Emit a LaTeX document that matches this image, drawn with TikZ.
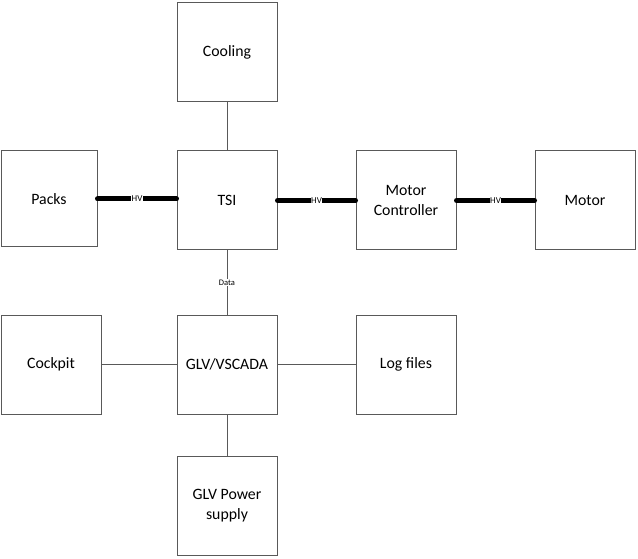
\documentclass[tikz,border=0pt]{standalone}
\usepackage{fontspec}
\setmainfont{Carlito}
\usepackage{tikz}
\usetikzlibrary{arrows}
\usepackage{color}
\definecolor{sysgray}{RGB}{89,89,89}
\definecolor{sysblack}{RGB}{0,0,0}

\begin{document}
\begin{tikzpicture}[x=1pt, y=-1pt,
    block/.style={draw=sysgray, line width=1pt, fill=white, align=center,
      minimum width=100pt, minimum height=99pt, inner sep=0pt,
      font=\fontsize{15.8}{19.5}\selectfont},
    link/.style={draw=sysgray, line width=1pt},
    hvlink/.style={draw=sysblack, line width=5pt, line cap=round},
    hvtag/.style={fill=white, inner sep=0.5pt, font=\fontsize{9}{10}\selectfont},
    datatag/.style={fill=white, inner sep=0.5pt, font=\fontsize{8.5}{10}\selectfont}]
  \useasboundingbox (0,0) rectangle (638,559);

  % Blocks of the top row and middle row
  \node[block] (cooling) at (227,52) {Cooling};
  \node[block, minimum width=96pt, minimum height=96pt] (packs) at (49,199) {Packs};
  \node[block] (tsi) at (227,200.5) {TSI};
  \node[block] (mc) at (406,200.5) {Motor\\Controller};
  \node[block] (motor) at (585,200.5) {Motor};

  % Blocks of the low voltage side
  \node[block] (cockpit) at (51,364.5) {Cockpit};
  \node[block] (glv) at (227,364.5) {GLV/VSCADA};
  \node[block] (logs) at (406,364.5) {Log files};
  \node[block] (glvps) at (227,505.5) {GLV Power\\supply};

  % Plain links
  \draw[link] (cooling) -- (tsi);
  \draw[link] (cockpit) -- (glv);
  \draw[link] (glv) -- (logs);
  \draw[link] (glv) -- (glvps);

  % Data link
  \draw[link] (tsi) -- (glv) node[midway, datatag] {Data};

  % HV links
  \draw[hvlink] (packs.east) -- (packs.east -| tsi.west) node[midway, hvtag] {HV};
  \draw[hvlink] (tsi) -- (mc) node[midway, hvtag] {HV};
  \draw[hvlink] (mc) -- (motor) node[midway, hvtag] {HV};
\end{tikzpicture}
\end{document}
